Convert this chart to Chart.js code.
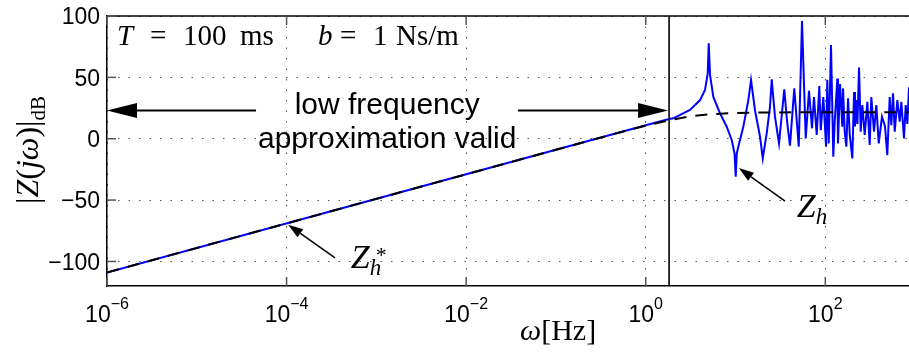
<!DOCTYPE html>
<html>
<head>
<meta charset="utf-8">
<script src="https://cdn.jsdelivr.net/npm/chart.js@4.4.1/dist/chart.umd.min.js"></script>
<style>
  html, body { margin: 0; padding: 0; background: #fff; }
  canvas { display: block; }
</style>
</head>
<body>
<canvas id="zPlot" width="909" height="352"></canvas>
<script>
// |Z(jw)| in dB: full hose model vs. low frequency approximation

// full model Z_h (blue)
const exactHz = [1e-6, 1e-2, 1, 1.82, 2.03, 3.11, 4.03, 4.57, 4.90, 5.03, 5.20, 5.66, 6.72, 7.98, 9.07, 9.75, 10.05,
  10.33, 10.74, 12.21, 13.89, 14.88, 16.49, 18.75, 20.1, 22.25, 24.2, 25.3, 27.5, 30.5, 34.9, 37.4, 40.4, 45.1,
  50.6, 55.0, 60.5, 65.8, 71.1, 74.8, 80.2, 85.7, 88.9, 95.0, 101.9, 105.2, 109.1, 115.7, 122.7, 127.3, 136.1,
  138.4, 145.8, 154.6, 157.5, 164.4, 171.4, 179.1, 187.1, 200.0, 208.9, 214, 221.3, 228, 237.3, 247.9, 258.3,
  274.6, 293.6, 312.2, 325.3, 348.6, 369.8, 393.4, 427.6, 462.4, 490.0, 521.2, 543.3, 567.5, 592.9, 633.9,
  674.0, 702.2, 752, 785.7, 820, 855];
const exactDb = [-109, -29, 11, 16, 16.6, 23.4, 31.5, 39.7, 53, 77.7, 52, 34, 20.7, 9.8, -1, -12, -31,
  -12, -6.5, 9.8, 31.5, 47.8, 23, 1.6, -16, 4.6, 26, 48.4, 18, -3.8, 40.3, 15, -5.7, 41,
  -6.5, 96, 0.3, 39, 8.5, 34, 3, 43, 7, 34, -6.5, 48, -3.8, 76.4, -14.7, 14, 49,
  -3.8, 44.6, 9.8, 41, 5.7, -6.5, 33, 3, -16, 38, 10, 31.5, 12, 58, 5.7, 27.5,
  3, 30, -5, 34, 5.7, 27.5, -3.8, 18, 10, -13.3, 34, 11, 37, 5.7, 31.5,
  14, 30, 0.3, 27.5, 12, 42];

// low frequency approximation Z_h^* (dashed)
const approxHz = [1e-6, 0.1, 0.5, 1, 1.82, 3.11, 5, 10, 20, 50, 855];
const approxDb = [-109, -9, 4.9, 10.6, 15.1, 18.2, 19.9, 21, 21.4, 21.5, 21.5];

const xTickExp = [-6, -4, -2, 0, 2];
const yTicks = [-100, -50, 0, 50, 100];
const fMin = 1e-6, fMax = 855;
const dbMin = -120, dbMax = 100;
const cutoffHz = 1.82;

const sans = '"Liberation Sans", Arial, Helvetica, sans-serif';
const serif = '"Liberation Serif", "Times New Roman", serif';

function toXY(xs, ys) {
  return xs.map((f, i) => ({ x: f, y: ys[i] }));
}

function arrow(ctx, x1, y1, x2, y2, headLen, headHalf, width) {
  const ang = Math.atan2(y2 - y1, x2 - x1);
  const bx = x2 - headLen * Math.cos(ang), by = y2 - headLen * Math.sin(ang);
  ctx.lineWidth = width;
  ctx.beginPath();
  ctx.moveTo(x1, y1);
  ctx.lineTo(bx, by);
  ctx.stroke();
  ctx.beginPath();
  ctx.moveTo(x2, y2);
  ctx.lineTo(bx + headHalf * Math.sin(ang), by - headHalf * Math.cos(ang));
  ctx.lineTo(bx - headHalf * Math.sin(ang), by + headHalf * Math.cos(ang));
  ctx.closePath();
  ctx.fill();
}

// draws pieces [text, font, dy] one after another starting at x
function run(ctx, x, y, pieces) {
  pieces.forEach(([t, font, dy]) => {
    ctx.font = font;
    ctx.fillText(t, x, y + (dy || 0));
    x += ctx.measureText(t).width;
  });
  return x;
}

function runWidth(ctx, pieces) {
  let w = 0;
  pieces.forEach(([t, font]) => { ctx.font = font; w += ctx.measureText(t).width; });
  return w;
}

const decorations = {
  id: 'decorations',
  afterDraw(chart) {
    const { ctx, chartArea: a, scales: { x, y } } = chart;
    const px = f => x.getPixelForValue(f);
    const py = v => y.getPixelForValue(v);
    const ln = (x1, y1, x2, y2) => { ctx.beginPath(); ctx.moveTo(x1, y1); ctx.lineTo(x2, y2); ctx.stroke(); };

    ctx.save();
    ctx.fillStyle = '#000';
    ctx.strokeStyle = '#000';

    // top frame
    ctx.lineWidth = 1.5;
    ln(a.left, a.top, a.right, a.top);

    // inward tick marks
    ctx.strokeStyle = '#555';
    ctx.lineWidth = 1.5;
    xTickExp.forEach(e => {
      const xp = px(Math.pow(10, e));
      ln(xp, a.bottom, xp, a.bottom - 9);
      ln(xp, a.top, xp, a.top + 9);
    });
    yTicks.forEach(v => ln(a.left, py(v), a.left + 9, py(v)));

    // x tick labels 10^n
    ctx.textBaseline = 'alphabetic';
    ctx.textAlign = 'left';
    xTickExp.forEach(e => {
      const sup = e < 0 ? '\u2212' + (-e) : String(e);
      const pieces = [['10', '23px ' + sans, 0], [sup, '16px ' + sans, -13]];
      const w = runWidth(ctx, pieces);
      run(ctx, px(Math.pow(10, e)) - w / 2, a.bottom + 36, pieces);
    });

    // y tick labels
    ctx.font = '23px ' + sans;
    ctx.textAlign = 'right';
    ctx.textBaseline = 'middle';
    yTicks.forEach(v => {
      ctx.fillText(v < 0 ? '\u2212' + (-v) : String(v), a.left - 7, py(v) + 2);
    });

    // cutoff line
    ctx.strokeStyle = '#111';
    ctx.lineWidth = 1.7;
    ln(px(cutoffHz), a.top, px(cutoffHz), a.bottom);

    // validity range arrows
    ctx.strokeStyle = '#000';
    arrow(ctx, px(4.57e-5), py(23), px(fMin), py(23), 30, 7.5, 2);
    arrow(ctx, px(0.0378), py(23), px(cutoffHz) - 1, py(23), 30, 7.5, 2);

    ctx.textAlign = 'center';
    ctx.textBaseline = 'alphabetic';
    ctx.font = '30px ' + sans;
    ctx.fillText('low frequency', px(1.32e-3), 114);
    ctx.fillText('approximation valid', px(1.32e-3), 148);

    // curve labels
    arrow(ctx, px(3.47e-4), py(-97), px(1.04e-4), py(-70), 15, 5, 1.5);
    arrow(ctx, px(35.6), py(-50.8), px(10.9), py(-23.9), 15, 5, 1.5);
    ctx.textAlign = 'left';
    run(ctx, px(5.2e-4), py(-105.4), [['Z', 'italic 34px ' + serif, 0], ['h', 'italic 23px ' + serif, 7]]);
    ctx.font = '22px ' + serif;
    ctx.fillText('*', px(5.2e-4) + 25, py(-105.4) - 6);
    run(ctx, px(48.2), py(-63.8), [['Z', 'italic 34px ' + serif, 0], ['h', 'italic 23px ' + serif, 7]]);

    // parameters
    const pf = '29px ' + serif, pi = 'italic 29px ' + serif;
    ctx.font = pi; ctx.fillText('T', a.left + 10, 45);
    ctx.font = pf; ctx.fillText('=', a.left + 43, 45);
    ctx.fillText('100', a.left + 76, 45);
    ctx.fillText('ms', a.left + 133, 45);
    ctx.font = pi; ctx.fillText('b', a.left + 211, 45);
    ctx.font = pf; ctx.fillText('=', a.left + 233, 45);
    ctx.fillText('1', a.left + 266, 45);
    ctx.fillText('Ns/m', a.left + 289, 45);

    // axis titles
    const xt = [['\u03c9', 'italic 30px ' + serif, 0], ['[Hz]', '30px ' + serif, 0]];
    run(ctx, 520, 340, xt);

    const yt = [['|', '32px ' + serif, 0], ['Z', 'italic 32px ' + serif, 0], ['(', '32px ' + serif, 0],
      ['j\u03c9', 'italic 32px ' + serif, 0], [')|', '32px ' + serif, 0], ['dB', '21px ' + serif, 7]];
    ctx.save();
    ctx.translate(38, 150);
    ctx.rotate(-Math.PI / 2);
    run(ctx, -runWidth(ctx, yt) / 2, 0, yt);
    ctx.restore();

    ctx.restore();
  }
};

new Chart(document.getElementById('zPlot'), {
  type: 'line',
  data: {
    datasets: [
      {
        label: 'Z_h^*',
        data: toXY(approxHz, approxDb),
        borderColor: '#000',
        borderWidth: 2,
        borderDash: [12, 9],
        pointRadius: 0,
        tension: 0,
        order: 0
      },
      {
        label: 'Z_h',
        data: toXY(exactHz, exactDb),
        borderColor: '#0000ff',
        borderWidth: 2,
        pointRadius: 0,
        tension: 0,
        order: 1
      }
    ]
  },
  options: {
    responsive: false,
    animation: false,
    events: [],
    layout: { padding: { left: 107, right: 0, top: 16, bottom: 66 } },
    plugins: { legend: { display: false }, tooltip: { enabled: false } },
    scales: {
      x: {
        type: 'logarithmic',
        min: fMin,
        max: fMax,
        afterBuildTicks: s => { s.ticks = xTickExp.map(e => ({ value: Math.pow(10, e) })); },
        ticks: { display: false },
        grid: { color: '#555', lineWidth: 1, drawTicks: false },
        border: { color: '#000', width: 1.5, dash: [1.5, 9] }
      },
      y: {
        min: dbMin,
        max: dbMax,
        afterBuildTicks: s => { s.ticks = yTicks.map(v => ({ value: v })); },
        ticks: { display: false },
        grid: { color: '#555', lineWidth: 1, drawTicks: false },
        border: { color: '#000', width: 1.5, dash: [1.5, 9] }
      }
    }
  },
  plugins: [decorations]
});
</script>
</body>
</html>
